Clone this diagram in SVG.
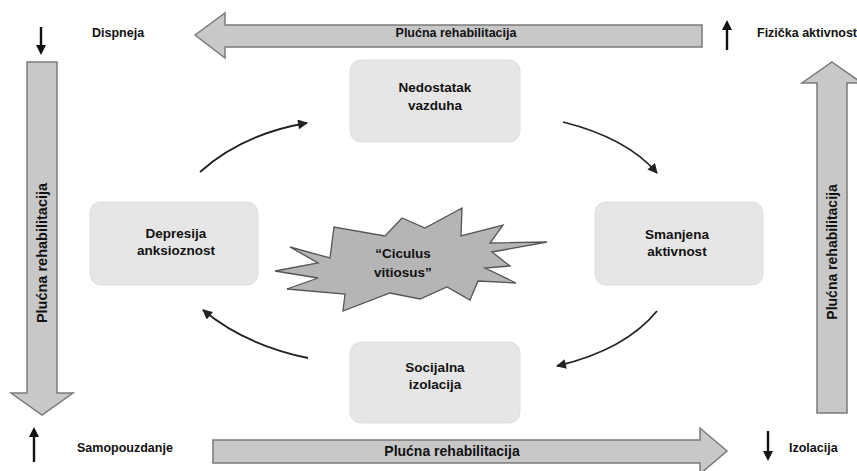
<svg xmlns="http://www.w3.org/2000/svg" width="857" height="471" viewBox="0 0 857 471">
<defs>
<style>
.big{fill:#c8c8c8;stroke:#7a7a7a;stroke-width:1.5}
.box{fill:#e6e6e6;stroke:#dedede;stroke-width:1}
.t{font-family:"Liberation Sans",Arial,sans-serif;font-weight:bold;fill:#111}
.nt{font-size:13.5px;text-anchor:middle}
.lb{font-size:12.5px}
.cv{fill:none;stroke:#222;stroke-width:1.8}
.sa{fill:none;stroke:#111;stroke-width:2.4}
.sh{fill:#111}
</style>
<marker id="ah" viewBox="0 0 10 10" refX="9" refY="5" markerWidth="6" markerHeight="5.5" orient="auto" markerUnits="strokeWidth">
<path d="M0,0 L10,5 L0,10 z" fill="#222"/>
</marker>
</defs>
<rect width="857" height="471" fill="#fff"/>

<g id="arrow-top">
<polygon class="big" points="195,35 225,13 225,25 702,25 702,47 225,47 225,58"/>
<text class="t" x="456" y="37" font-size="12.5" text-anchor="middle">Plućna rehabilitacija</text>
</g>
<g id="arrow-bottom">
<polygon class="big" points="213,440 700,440 700,428 727,451 700,474 700,463 213,463"/>
<text class="t" x="452" y="456" font-size="14" text-anchor="middle">Plućna rehabilitacija</text>
</g>
<g id="arrow-left">
<polygon class="big" points="27,62 57,62 57,393 73,393 42,415 11,393 27,393"/>
<text class="t" transform="translate(47,253) rotate(-90)" font-size="14.5" text-anchor="middle">Plućna rehabilitacija</text>
</g>
<g id="arrow-right">
<polygon class="big" points="832,62 862,83 847,83 847,413 817,413 817,83 802,83"/>
<text class="t" transform="translate(837,252) rotate(-90)" font-size="14" text-anchor="middle">Plućna rehabilitacija</text>
</g>

<g id="label-dispneja">
<line class="sa" x1="41" y1="27" x2="41" y2="47"/>
<polygon class="sh" points="36,45 46,45 41,55"/>
<text class="t lb" x="92" y="37">Dispneja</text>
</g>
<g id="label-fizicka">
<line class="sa" x1="727" y1="50" x2="727" y2="28"/>
<polygon class="sh" points="722,30 732,30 727,20"/>
<text class="t lb" x="757" y="37">Fizička aktivnost</text>
</g>
<g id="label-samopouzdanje">
<line class="sa" x1="34" y1="462" x2="34" y2="435"/>
<polygon class="sh" points="29,437 39,437 34,427"/>
<text class="t lb" x="77" y="452">Samopouzdanje</text>
</g>
<g id="label-izolacija">
<line class="sa" x1="768" y1="431" x2="768" y2="453"/>
<polygon class="sh" points="763,451 773,451 768,461"/>
<text class="t lb" x="789" y="452">Izolacija</text>
</g>

<g id="node-nedostatak">
<rect class="box" x="350" y="60" width="170" height="82" rx="11"/>
<text class="t nt" x="435" y="92">Nedostatak</text>
<text class="t nt" x="435" y="110">vazduha</text>
</g>
<g id="node-smanjena">
<rect class="box" x="595" y="202" width="168" height="83" rx="11"/>
<text class="t nt" x="677" y="239">Smanjena</text>
<text class="t nt" x="677" y="256">aktivnost</text>
</g>
<g id="node-socijalna">
<rect class="box" x="350" y="342" width="170" height="81" rx="11"/>
<text class="t nt" x="435" y="372">Socijalna</text>
<text class="t nt" x="435" y="389">izolacija</text>
</g>
<g id="node-depresija">
<rect class="box" x="90" y="202" width="168" height="83" rx="11"/>
<text class="t nt" x="176" y="238">Depresija</text>
<text class="t nt" x="176" y="255">anksioznost</text>
</g>
<g id="node-ciculus">
<polygon fill="#b5b5b5" stroke="#555" stroke-width="1.3" points="275,271 318,263 290,247 330,258 334,227 385,236 402,218 425,228 462,208 461,236 503,225 490,243 547,242 492,252 510,266 485,268 516,283 478,281 470,300 447,287 420,299 390,293 343,311 345,294 287,289 318,278"/>
<text class="t" x="403" y="258" font-size="13.5" text-anchor="middle">“Ciculus</text>
<text class="t" x="403" y="277" font-size="13.5" text-anchor="middle">vitiosus”</text>
</g>

<g id="connectors">
<path class="cv" d="M200,172 Q242,134 307,123" marker-end="url(#ah)"/>
<path class="cv" d="M563,122 Q627,138 657,173" marker-end="url(#ah)"/>
<path class="cv" d="M657,311 Q625,350 557,366" marker-end="url(#ah)"/>
<path class="cv" d="M308,358 Q245,345 203,310" marker-end="url(#ah)"/>
</g>
</svg>
